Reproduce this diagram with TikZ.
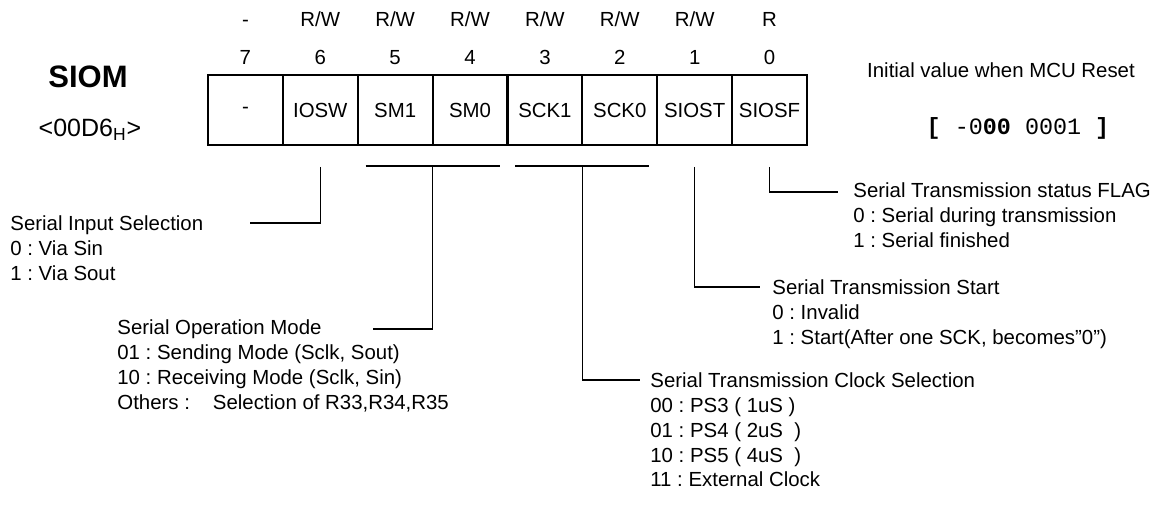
\documentclass[tikz,border=0pt]{standalone}
\usepackage{fontspec}
\setmainfont{Liberation Sans}
\setmonofont{Liberation Mono}
\usepackage{tikz}
\usetikzlibrary{positioning}
\frenchspacing

\begin{document}
\begin{tikzpicture}[x=0.5pt,y=-0.5pt,font=\fontsize{10.2}{12.4}\selectfont,
  cell/.style={draw,line width=1.1pt,minimum width=37.44pt,minimum height=35pt,inner sep=0pt,outer sep=0pt},
  bitno/.style={inner sep=0pt,outer sep=0pt,text height=7.5pt,text depth=0pt},
  wire/.style={line width=0.6pt},
  desc/.style={align=left,anchor=north west,inner sep=0pt}]
\useasboundingbox (0,0) rectangle (1173,513);
\node[font=\fontsize{15.5}{18}\selectfont\bfseries] (reg) at (88,77) {SIOM};
\node[font=\fontsize{12.5}{15}\selectfont] (addr) at (90,130) {<00D6\textsubscript{H}>};
\node[cell] (b7) at (245.4,110) {-};
\node[cell,right=0pt of b7] (b6) {IOSW};
\node[cell,right=0pt of b6] (b5) {SM1};
\node[cell,right=0pt of b5] (b4) {SM0};
\node[cell,right=0pt of b4] (b3) {SCK1};
\node[cell,right=0pt of b3] (b2) {SCK0};
\node[cell,right=0pt of b2] (b1) {SIOST};
\node[cell,right=0pt of b1] (b0) {SIOSF};
\node[bitno,above=5.3pt of b7] (n7) {7};
\node[bitno,above=5.3pt of b6] (n6) {6};
\node[bitno,above=5.3pt of b5] (n5) {5};
\node[bitno,above=5.3pt of b4] (n4) {4};
\node[bitno,above=5.3pt of b3] (n3) {3};
\node[bitno,above=5.3pt of b2] (n2) {2};
\node[bitno,above=5.3pt of b1] (n1) {1};
\node[bitno,above=5.3pt of b0] (n0) {0};
\node[bitno,above=11.5pt of n7] (a7) {-};
\node[bitno,above=11.5pt of n6] (a6) {R/W};
\node[bitno,above=11.5pt of n5] (a5) {R/W};
\node[bitno,above=11.5pt of n4] (a4) {R/W};
\node[bitno,above=11.5pt of n3] (a3) {R/W};
\node[bitno,above=11.5pt of n2] (a2) {R/W};
\node[bitno,above=11.5pt of n1] (a1) {R/W};
\node[bitno,above=11.5pt of n0] (a0) {R};
\node (init) at (1001,70) {Initial value when MCU Reset};
\node[font=\fontsize{11.7}{14}\selectfont\ttfamily] (rst) at (1018,128) {\textbf{[}~-0\textbf{00}~0001~\textbf{]}};
\node[desc] (d6) at (10,215.5) {Serial Input Selection\\0 : Via Sin\\1 : Via Sout};
\node[desc] (d54) at (117,319.5) {Serial Operation Mode\\01 : Sending Mode (Sclk, Sout)\\10 : Receiving Mode (Sclk, Sin)\\Others :\hspace{11.5pt}Selection of R33,R34,R35};
\node[desc] (d32) at (650,372.5) {Serial Transmission Clock Selection\\00 : PS3 ( 1uS )\\01 : PS4 ( 2uS\ \ )\\10 : PS5 ( 4uS\ \ )\\11 : External Clock};
\node[desc] (d1) at (772,279.5) {Serial Transmission Start\\0 : Invalid\\1 : Start(After one SCK, becomes”0”)};
\node[desc] (d0) at (853,182.5) {Serial Transmission status FLAG\\0 : Serial during transmission\\1 : Serial finished};
\coordinate (t6) at ([yshift=-11pt]b6.south);
\coordinate (t54) at ([yshift=-10.5pt]b5.south east);
\coordinate (t32) at ([yshift=-10.5pt]b3.south east);
\coordinate (t1) at ([yshift=-11pt]b1.south);
\coordinate (t0) at ([yshift=-11pt]b0.south);
\coordinate (e6) at (250,223);
\coordinate (e54) at (373,329);
\coordinate (e32) at (640,380);
\coordinate (e1) at (760,287);
\coordinate (e0) at (838,192);
\draw[wire] ([xshift=-33.5pt]t54) -- ([xshift=33.5pt]t54);
\draw[wire] ([xshift=-33.5pt]t32) -- ([xshift=33.5pt]t32);
\draw[wire] (t6) |- (e6);
\draw[wire] (t54) |- (e54);
\draw[wire] (t32) |- (e32);
\draw[wire] (t1) |- (e1);
\draw[wire] (t0) |- (e0);
\end{tikzpicture}
\end{document}
